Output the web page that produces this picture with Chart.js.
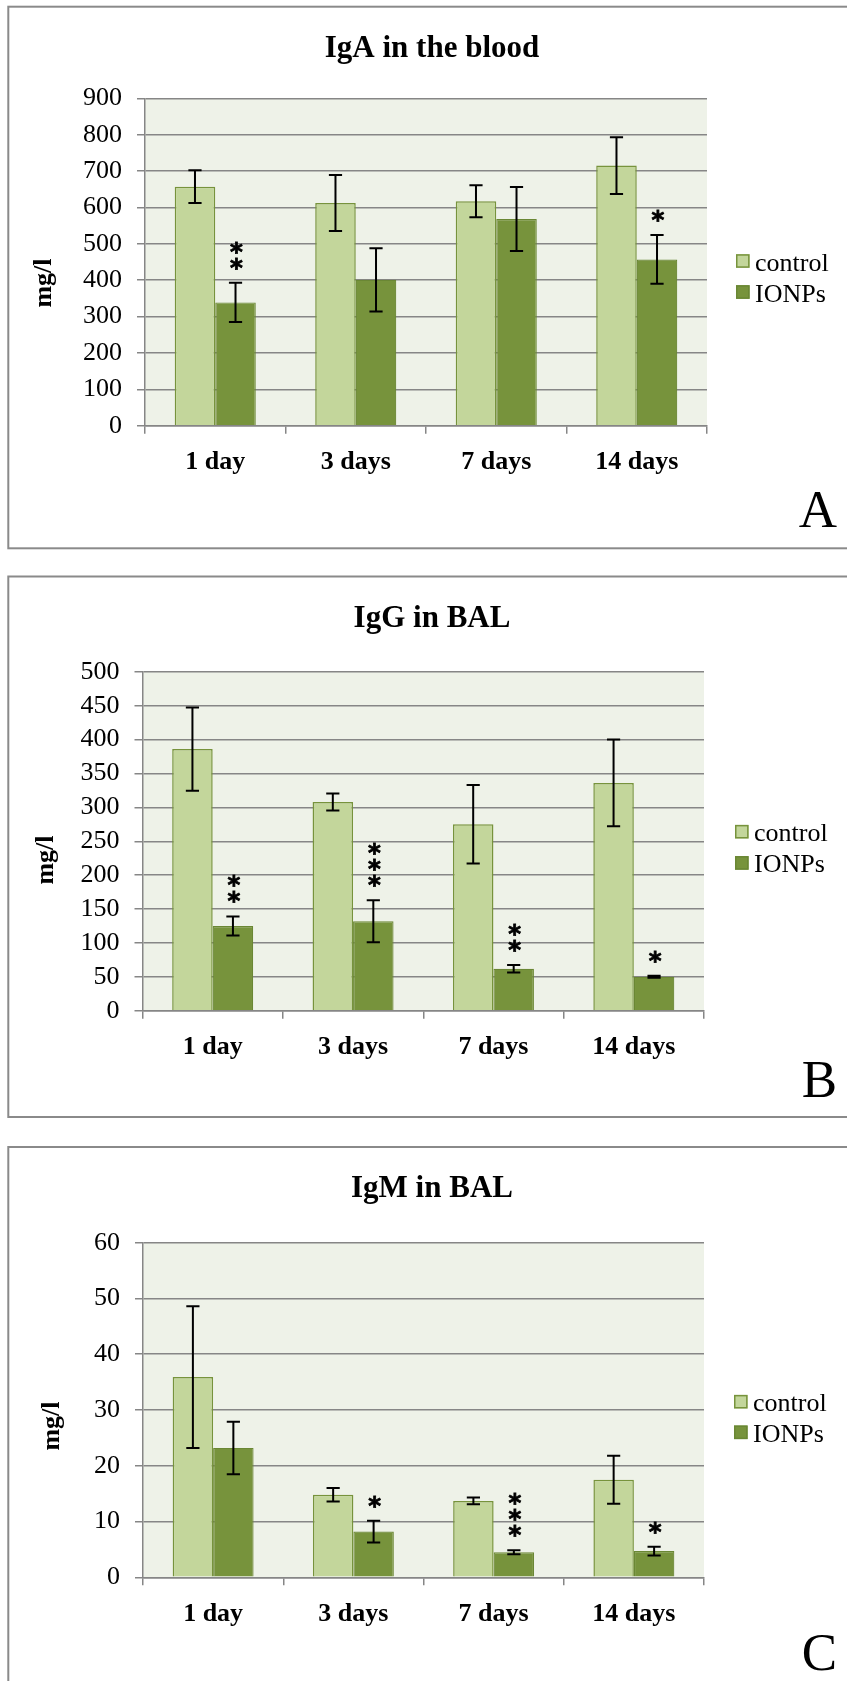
<!DOCTYPE html>
<html>
<head>
<meta charset="utf-8">
<script src="https://cdn.jsdelivr.net/npm/chart.js@4.4.1/dist/chart.umd.min.js"></script>
<style>
html, body { margin: 0; padding: 0; background: #ffffff; }
#page { position: relative; width: 847px; height: 1681px; overflow: hidden; background: #ffffff; }
canvas { position: absolute; left: 0; }
</style>
</head>
<body>
<div id="page">
  <canvas id="cA" width="847" height="562" style="top:0px"></canvas>
  <canvas id="cB" width="847" height="570" style="top:562px"></canvas>
  <canvas id="cC" width="847" height="549" style="top:1132px"></canvas>
</div>
<script>
// ---------------- DATA ----------------
const categories = ["1 day", "3 days", "7 days", "14 days"];
const seriesNames = ["control", "IONPs"];

// Panel A: IgA in the blood (mg/l)
const igaTitle = "IgA in the blood";
const igaControl = [657, 612, 617, 715];
const igaControlErr = [45, 77, 44, 78];
const igaIonp = [339, 401, 568, 457];
const igaIonpErr = [54, 87, 88, 67];
const igaSig = ["**", "", "", "*"];
const igaAxisMax = 900;
const igaAxisStep = 100;

// Panel B: IgG in BAL (mg/l)
const iggTitle = "IgG in BAL";
const iggControl = [386, 308, 275, 336];
const iggControlErr = [61.5, 12.5, 58, 64];
const iggIonp = [125, 132, 62, 50];
const iggIonpErr = [14, 31, 5.5, 1.5];
const iggSig = ["**", "***", "**", "*"];
const iggAxisMax = 500;
const iggAxisStep = 50;

// Panel C: IgM in BAL (mg/l)
const igmTitle = "IgM in BAL";
const igmControl = [35.9, 14.8, 13.7, 17.5];
const igmControlErr = [12.7, 1.2, 0.6, 4.3];
const igmIonp = [23.2, 8.2, 4.5, 4.7];
const igmIonpErr = [4.7, 1.95, 0.35, 0.78];
const igmSig = ["", "*", "***", "*"];
const igmAxisMax = 60;
const igmAxisStep = 10;

const yAxisTitle = "mg/l";
const panelLetters = ["A", "B", "C"];

// ---------------- STYLE ----------------
const SERIF = "'Liberation Serif', 'Times New Roman', Times, serif";
const STAR_FONT = "'DejaVu Sans', 'Liberation Sans', sans-serif";
const GRID = "#868686";
const FRAME = "#8a8a8a";
const PLOT_BG = "#eef2e8";
const CONTROL_FILL = "#c3d69b";
const CONTROL_EDGE = "#77933c";
const IONP_FILL = "#77933c";
const IONP_EDGE = "#6a8734";
const X_AXIS_H = 50;

// ---------------- LAYOUT (per panel, canvas coordinates) ----------------
const layouts = [
  { frame: {left: 8.3, top: 6.7, bottom: 548.3}, plot: {left: 145, right: 707, top: 98.3, bottom: 425.7},
    titleBase: 56.7, letterBase: 527, yLabel: {x: 44, y: 283}, legend: {x: 736, y: [261, 292]} },
  { frame: {left: 8.3, top: 14.5, bottom: 555}, plot: {left: 142.5, right: 704, top: 109.8, bottom: 448.7},
    titleBase: 64.7, letterBase: 535, yLabel: {x: 46, y: 298}, legend: {x: 735, y: [269.7, 300.9]} },
  { frame: {left: 8.3, top: 15, bottom: 700}, plot: {left: 143, right: 704, top: 110.7, bottom: 445.3},
    titleBase: 65, letterBase: 538, yLabel: {x: 52, y: 294}, legend: {x: 734, y: [269.7, 300.3]} }
];

const panels = [
  { title: igaTitle, control: igaControl, controlErr: igaControlErr, ionp: igaIonp, ionpErr: igaIonpErr, sig: igaSig, max: igaAxisMax, step: igaAxisStep },
  { title: iggTitle, control: iggControl, controlErr: iggControlErr, ionp: iggIonp, ionpErr: iggIonpErr, sig: iggSig, max: iggAxisMax, step: iggAxisStep },
  { title: igmTitle, control: igmControl, controlErr: igmControlErr, ionp: igmIonp, ionpErr: igmIonpErr, sig: igmSig, max: igmAxisMax, step: igmAxisStep }
];

// asterisk size: glyph height ~11.5 px
function starFontSize(ctx) {
  ctx.save();
  ctx.font = "bold 100px " + STAR_FONT;
  const m = ctx.measureText("*");
  ctx.restore();
  const glyphH = (m.actualBoundingBoxAscent + m.actualBoundingBoxDescent) || 45;
  return 11.5 / glyphH * 100;
}

function panelPlugin(p, L, letter) {
  return {
    id: "panelDeco",
    beforeDraw(chart) {
      const ctx = chart.ctx, a = chart.chartArea;
      ctx.save();
      ctx.fillStyle = PLOT_BG;
      ctx.fillRect(a.left, a.top, a.right - a.left, a.bottom - a.top);
      ctx.strokeStyle = FRAME;
      ctx.lineWidth = 2;
      ctx.strokeRect(L.frame.left, L.frame.top, 900, L.frame.bottom - L.frame.top);
      ctx.restore();
    },
    afterDatasetsDraw(chart) {
      const ctx = chart.ctx;
      const ys = chart.scales.y;
      const errs = [p.controlErr, p.ionpErr];
      const vals = [p.control, p.ionp];
      const fs = starFontSize(ctx);
      ctx.save();
      ctx.strokeStyle = "#000";
      ctx.lineWidth = 2;
      for (let d = 0; d < 2; d++) {
        const meta = chart.getDatasetMeta(d);
        meta.data.forEach((bar, j) => {
          const x = bar.x;
          const top = ys.getPixelForValue(vals[d][j] + errs[d][j]);
          const bot = ys.getPixelForValue(vals[d][j] - errs[d][j]);
          ctx.beginPath();
          ctx.moveTo(x, top); ctx.lineTo(x, bot);
          ctx.moveTo(x - 6.6, top); ctx.lineTo(x + 6.6, top);
          ctx.moveTo(x - 6.6, bot); ctx.lineTo(x + 6.6, bot);
          ctx.stroke();
          if (d === 1 && p.sig[j]) {
            ctx.font = "bold " + fs.toFixed(2) + "px " + STAR_FONT;
            const m = ctx.measureText("*");
            const asc = m.actualBoundingBoxAscent, desc = m.actualBoundingBoxDescent;
            const centerOff = (asc - desc) / 2;
            ctx.fillStyle = "#000";
            ctx.strokeStyle = "#000";
            ctx.lineWidth = 0.8;
            ctx.textAlign = "center";
            ctx.textBaseline = "alphabetic";
            const n = p.sig[j].length;
            for (let k = 0; k < n; k++) {
              const cy = top - 19 - k * 16;
              ctx.fillText("*", x + 1, cy + centerOff);
              ctx.strokeText("*", x + 1, cy + centerOff);
            }
            ctx.lineWidth = 2;
          }
        });
      }
      ctx.restore();
    },
    afterDraw(chart) {
      const ctx = chart.ctx;
      ctx.save();
      ctx.fillStyle = "#000";
      // title
      ctx.font = "bold 31px " + SERIF;
      ctx.textAlign = "center";
      ctx.textBaseline = "alphabetic";
      ctx.fillText(p.title, 432, L.titleBase);
      // panel letter
      ctx.font = "53px " + SERIF;
      ctx.textAlign = "right";
      ctx.fillText(letter, 837, L.letterBase);
      // y axis title
      ctx.save();
      ctx.translate(L.yLabel.x, L.yLabel.y);
      ctx.rotate(-Math.PI / 2);
      ctx.font = "bold 26px " + SERIF;
      ctx.textAlign = "center";
      ctx.textBaseline = "middle";
      ctx.fillText(yAxisTitle, 0, 0);
      ctx.restore();
      // legend
      ctx.font = "26px " + SERIF;
      ctx.textAlign = "left";
      ctx.textBaseline = "alphabetic";
      chart.data.datasets.forEach((ds, i) => {
        const cy = L.legend.y[i];
        ctx.fillStyle = ds.backgroundColor;
        ctx.fillRect(L.legend.x, cy - 6.8, 13.6, 13.6);
        ctx.strokeStyle = ds.borderColor;
        ctx.lineWidth = 1.5;
        ctx.strokeRect(L.legend.x + 0.75, cy - 6.05, 12.1, 12.1);
        ctx.fillStyle = "#000";
        ctx.fillText(ds.label, L.legend.x + 19, cy + 9.5);
      });
      ctx.restore();
    }
  };
}

function makeChart(id, p, L, letter) {
  const canvas = document.getElementById(id);
  const W = canvas.width, H = canvas.height;
  return new Chart(canvas, {
    type: "bar",
    data: {
      labels: categories,
      datasets: [
        { label: seriesNames[0], data: p.control, backgroundColor: CONTROL_FILL, borderColor: CONTROL_EDGE, borderWidth: 1.5 },
        { label: seriesNames[1], data: p.ionp, backgroundColor: IONP_FILL, borderColor: IONP_EDGE, borderWidth: 1.2 }
      ]
    },
    options: {
      responsive: false,
      animation: false,
      events: [],
      devicePixelRatio: 1,
      layout: { padding: { left: 0, top: L.plot.top, right: W - L.plot.right, bottom: H - L.plot.bottom - X_AXIS_H } },
      plugins: { legend: { display: false }, title: { display: false }, tooltip: { enabled: false } },
      datasets: { bar: { categoryPercentage: 0.577, barPercentage: 1.0 } },
      scales: {
        x: {
          grid: { display: true, drawOnChartArea: false, drawTicks: true, tickLength: 8, color: GRID, lineWidth: 1.5, offset: true },
          border: { display: true, color: GRID, width: 1.5 },
          ticks: { color: "#000", font: { family: SERIF, size: 26, weight: "bold" }, padding: 13, maxRotation: 0, autoSkip: false },
          afterFit: s => { s.height = X_AXIS_H; }
        },
        y: {
          min: 0, max: p.max,
          grid: { color: GRID, lineWidth: 1.5, tickLength: 8, drawTicks: true },
          border: { display: true, color: GRID, width: 1.5 },
          ticks: { stepSize: p.step, color: "#000", font: { family: SERIF, size: 26, lineHeight: 1 }, padding: 15, autoSkip: false },
          afterFit: s => { s.width = L.plot.left; }
        }
      }
    },
    plugins: [panelPlugin(p, L, letter)]
  });
}

makeChart("cA", panels[0], layouts[0], panelLetters[0]);
makeChart("cB", panels[1], layouts[1], panelLetters[1]);
makeChart("cC", panels[2], layouts[2], panelLetters[2]);
</script>
</body>
</html>
